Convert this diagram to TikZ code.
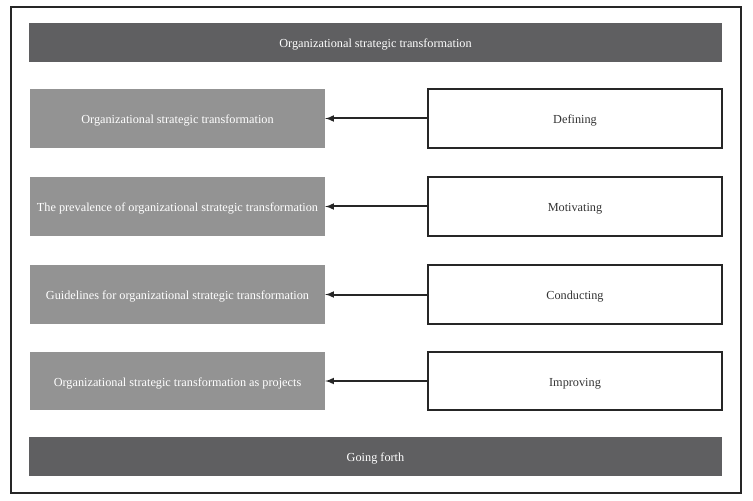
\documentclass[tikz,border=0pt]{standalone}
\usepackage{fontspec}
\setmainfont{Liberation Serif}
\definecolor{darkbar}{HTML}{5F5F61}
\definecolor{lightbox}{HTML}{939393}
\begin{document}
\begin{tikzpicture}[x=1bp,y=-1bp,
  txt/.style={font=\fontsize{12.3}{14}\selectfont,text height=10bp,text depth=0bp},
  frame/.style={draw=black!85,line width=1.6bp},
  bar/.style={txt,fill=darkbar,draw=none,text=white,inner sep=0pt,minimum width=693bp,minimum height=39bp},
  leftbox/.style={txt,fill=lightbox,draw=none,text=white,inner sep=0pt},
  rightbox/.style={txt,fill=white,draw=black!85,line width=1.6bp,text=black!80,inner sep=0pt},
  conn/.style={-latex,line width=2bp,draw=black!85}]
\useasboundingbox (0,0) rectangle (753,501);
\draw[frame] (11,7) rectangle (741,493);
\node[bar] (top) at (375.5,42.5) {Organizational strategic transformation};
\node[bar] (bottom) at (375.5,456.5) {Going forth};
\foreach \i/\yt/\yb/\lt/\rt in {
  1/89/148/{Organizational strategic transformation}/Defining,
  2/177/236/{The prevalence of organizational strategic transformation}/Motivating,
  3/265/324/{Guidelines for organizational strategic transformation}/Conducting,
  4/352/410/{Organizational strategic transformation as projects}/Improving}{
  \node[leftbox,minimum width=295bp,minimum height={\yb-\yt}] (L\i) at (177.5,{(\yt+\yb)/2}) {\lt};
  \node[rightbox,minimum width=294bp,minimum height={\yb-\yt}] (R\i) at (575,{(\yt+\yb)/2}) {\rt};
  \draw[conn] (R\i.west) -- (L\i.east);
}
\end{tikzpicture}
\end{document}
